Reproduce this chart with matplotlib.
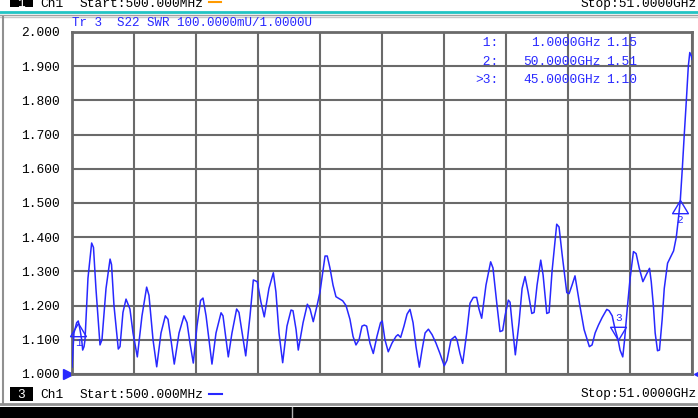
import numpy as np
import matplotlib
matplotlib.use("Agg")
from matplotlib import pyplot as plt
from matplotlib.path import Path
from matplotlib.lines import Line2D
from matplotlib.patches import Rectangle

# trace S22 SWR, frequency in GHz
freq_ghz = [0.50, 0.66, 0.88, 1.01, 1.15, 1.29, 1.37, 1.48, 1.56, 1.80, 2.10, 2.25, 2.45, 2.78, 2.94,
            3.27, 3.60, 3.72, 3.92, 4.27, 4.41, 4.65, 4.90, 5.22, 5.47, 5.82, 6.20, 6.58, 6.77, 7.10,
            7.40, 7.75, 8.10, 8.32, 8.56, 8.83, 9.22, 9.62, 9.87, 10.11, 10.38, 10.68, 10.97, 11.17,
            11.42, 11.90, 12.23, 12.64, 12.80, 13.23, 13.53, 13.91, 14.10, 14.65, 15.00, 15.27, 15.59,
            15.89, 16.16, 16.54, 16.90, 17.11, 17.36, 17.66, 18.01, 18.34, 18.50, 18.75, 18.93, 19.32,
            19.67, 19.89, 20.15, 20.46, 20.70, 21.11, 21.29, 21.51, 21.76, 22.00, 22.55, 22.82, 23.14,
            23.39, 23.63, 23.88, 24.12, 24.31, 24.50, 24.77, 25.04, 25.34, 25.63, 25.77, 25.99, 26.26,
            26.56, 26.89, 27.05, 27.27, 27.54, 27.79, 28.03, 28.28, 28.52, 28.79, 29.01, 29.26, 29.53,
            29.83, 30.15, 30.47, 30.82, 31.04, 31.37, 31.70, 31.86, 32.10, 32.32, 32.65, 32.92, 33.19,
            33.46, 33.65, 33.87, 34.22, 34.60, 34.79, 35.12, 35.36, 35.58, 35.77, 36.04, 36.18, 36.34,
            36.61, 36.91, 37.16, 37.40, 37.65, 37.95, 38.14, 38.38, 38.68, 38.87, 39.17, 39.36, 39.60,
            39.98, 40.17, 40.42, 40.80, 40.99, 41.23, 41.47, 41.88, 42.21, 42.64, 42.86, 43.11, 43.38,
            43.68, 44.06, 44.25, 44.50, 44.74, 44.98, 45.14, 45.36, 45.51, 45.74, 45.96, 46.23, 46.45,
            46.70, 47.00, 47.27, 47.54, 47.68, 47.86, 48.00, 48.19, 48.35, 48.57, 48.74, 49.01, 49.23,
            49.50, 49.72, 49.91, 50.05, 50.21, 50.37, 50.54, 50.70, 50.82, 50.95, 51.00]
swr = [1.02, 1.12, 1.15, 1.155, 1.13, 1.10, 1.07, 1.08, 1.10, 1.28, 1.383, 1.37, 1.25, 1.085, 1.10,
       1.25, 1.336, 1.32, 1.20, 1.073, 1.08, 1.18, 1.219, 1.19, 1.12, 1.05, 1.17, 1.254, 1.23, 1.10,
       1.021, 1.12, 1.17, 1.16, 1.10, 1.029, 1.12, 1.17, 1.15, 1.09, 1.032, 1.14, 1.215, 1.222,
       1.17, 1.029, 1.12, 1.179, 1.17, 1.05, 1.12, 1.19, 1.18, 1.053, 1.17, 1.275, 1.27,
       1.21, 1.167, 1.25, 1.296, 1.24, 1.12, 1.033, 1.14, 1.187, 1.185, 1.13, 1.07, 1.15,
       1.204, 1.19, 1.153, 1.20, 1.24, 1.345, 1.345, 1.31, 1.26, 1.226, 1.214, 1.20, 1.16,
       1.11, 1.085, 1.10, 1.14, 1.143, 1.14, 1.09, 1.06, 1.11, 1.15, 1.155, 1.10, 1.065,
       1.09, 1.11, 1.115, 1.107, 1.14, 1.175, 1.189, 1.15, 1.08, 1.02, 1.07, 1.12, 1.131,
       1.115, 1.09, 1.06, 1.024, 1.04, 1.10, 1.11, 1.10, 1.06, 1.031, 1.12, 1.207, 1.224,
       1.224, 1.19, 1.163, 1.26, 1.328, 1.31, 1.20, 1.124, 1.127, 1.17, 1.216, 1.21, 1.15,
       1.056, 1.15, 1.25, 1.285, 1.24, 1.177, 1.18, 1.26, 1.333, 1.29, 1.177, 1.18, 1.30,
       1.438, 1.43, 1.35, 1.238, 1.235, 1.26, 1.287, 1.197, 1.13, 1.08, 1.085, 1.12, 1.143,
       1.165, 1.189, 1.185, 1.17, 1.13, 1.10, 1.07, 1.05, 1.10, 1.197, 1.28, 1.358, 1.352,
       1.31, 1.27, 1.29, 1.309, 1.27, 1.197, 1.12, 1.068, 1.07, 1.16, 1.25, 1.324, 1.34,
       1.36, 1.40, 1.46, 1.51, 1.60, 1.70, 1.80, 1.90, 1.94, 1.93, 1.92]

marker_ids = ["1", "2", "3"]
marker_freq = [1.0, 50.0, 45.0]
marker_val = [1.15, 1.51, 1.10]
marker_rows = [" 1:", " 2:", ">3:"]
marker_freq_txt = ["1.0000GHz", "50.0000GHz", "45.0000GHz"]
marker_val_txt = ["1.15", "1.51", "1.10"]

yticks = np.arange(1.0, 2.001, 0.1)
start_ghz, stop_ghz = 0.5, 51.0

W, H = 698, 418
MONO = "Liberation Mono"
BLUE = "#2828ff"
GRID = "#6a6a6a"


def px(x, y):
    return x / W, 1 - y / H


fig = plt.figure(figsize=(W / 100, H / 100), dpi=100, facecolor="white")
ax = fig.add_axes([72 / W, 1 - 374 / H, 620 / W, 342 / H])

ax.plot(freq_ghz, swr, color=BLUE, lw=1.1, zorder=3)
ax.set_xlim(start_ghz, stop_ghz)
ax.set_ylim(1.0, 2.0)
ax.set_xticks(np.linspace(start_ghz, stop_ghz, 11))
ax.set_yticks(yticks)
ax.set_yticklabels(["%.3f" % v for v in yticks], fontfamily=MONO, fontsize=9.3)
ax.tick_params(length=0, labelbottom=False, pad=9)
ax.grid(True, color=GRID, lw=1.5)
for s in ax.spines.values():
    s.set_color(GRID)
    s.set_linewidth(2)

# marker triangles, apex on the trace
tri_up = Path([(0, 0), (-0.6, -1), (0.6, -1), (0, 0)], [1, 2, 2, 79])
tri_dn = Path([(0, 0), (-0.6, 1), (0.6, 1), (0, 0)], [1, 2, 2, 79])
for mid, f, v in zip(marker_ids, marker_freq, marker_val):
    up = mid != "3"
    ax.plot([f], [v], marker=tri_up if up else tri_dn, ms=19, mfc="none",
            mec=BLUE, mew=1.0, ls="none", clip_on=False, zorder=4)
    ax.annotate(mid, (f, v), xytext=(0, -20 if up else 22), textcoords="offset pixels",
                ha="center", va="center", color=BLUE, fontsize=8, fontfamily=MONO)

# reference arrows on the axis ends
ax.plot([-0.007], [0], marker=">", ms=7, color=BLUE, transform=ax.transAxes, clip_on=False)
ax.plot([1.008], [0], marker="<", ms=4, color=BLUE, transform=ax.transAxes, clip_on=False)

# trace title and marker table
fig.text(*px(72, 22.5), "Tr 3  S22 SWR 100.0000mU/1.0000U", color=BLUE, fontsize=9,
         fontfamily=MONO, va="center", ha="left")
for i in range(3):
    y = 43 + 18.7 * i
    fig.text(*px(498, y), marker_rows[i], color=BLUE, fontsize=9.3, fontfamily=MONO, va="center", ha="right")
    fig.text(*px(601, y), marker_freq_txt[i], color=BLUE, fontsize=9.3, fontfamily=MONO, va="center", ha="right")
    fig.text(*px(606, y), marker_val_txt[i], color=BLUE, fontsize=9.3, fontfamily=MONO, va="center", ha="left")

# window chrome
fig.add_artist(Line2D(*zip(px(0, 12), px(W, 12)), color="#22c4c4", lw=2))
fig.add_artist(Line2D(*zip(px(0, 14.5), px(W, 14.5)), color="#a0a0a0", lw=1))
fig.add_artist(Line2D(*zip(px(0, 17), px(W, 17)), color="#c8c8c8", lw=1))
fig.add_artist(Line2D(*zip(px(3, 17), px(3, 404)), color="#909090", lw=1.5))
fig.add_artist(Line2D(*zip(px(0, 404), px(W, 404)), color="#909090", lw=2))
fig.add_artist(Rectangle(px(0, H), 1, 11 / H, color="black", lw=0))
fig.add_artist(Line2D(*zip(px(292, 407), px(292, H)), color="#b0b0b0", lw=1))

# top status row (cut off by the window edge)
fig.add_artist(Rectangle(px(10, 7), 23 / W, 9 / H, color="black", lw=0))
fig.text(*px(21, 7), "1", color="white", fontsize=9.3, fontfamily=MONO, ha="center", va="baseline")
fig.text(*px(40, 7), "Ch1", color="black", fontsize=9.3, fontfamily=MONO, va="baseline")
fig.text(*px(80, 7), "Start:500.000MHz", color="black", fontsize=9.3, fontfamily=MONO, va="baseline")
fig.add_artist(Line2D(*zip(px(209, 2), px(221, 2)), color="#ff9a00", lw=1.5))
fig.text(*px(697, 7), "Stop:51.0000GHz", color="black", fontsize=9.3, fontfamily=MONO,
         va="baseline", ha="right")

# bottom status row
fig.add_artist(Rectangle(px(10, 401), 23 / W, 14 / H, color="black", lw=0))
fig.text(*px(21, 394.5), "3", color="white", fontsize=9.3, fontfamily=MONO, ha="center", va="center")
fig.text(*px(40, 394.5), "Ch1", color="black", fontsize=9.3, fontfamily=MONO, va="center")
fig.text(*px(80, 394.5), "Start:500.000MHz", color="black", fontsize=9.3, fontfamily=MONO, va="center")
fig.add_artist(Line2D(*zip(px(209, 394), px(222, 394)), color=BLUE, lw=1.5))
fig.text(*px(697, 394.5), "Stop:51.0000GHz", color="black", fontsize=9.3, fontfamily=MONO,
         va="center", ha="right")

fig.savefig("out.png", dpi=100, facecolor="white")
